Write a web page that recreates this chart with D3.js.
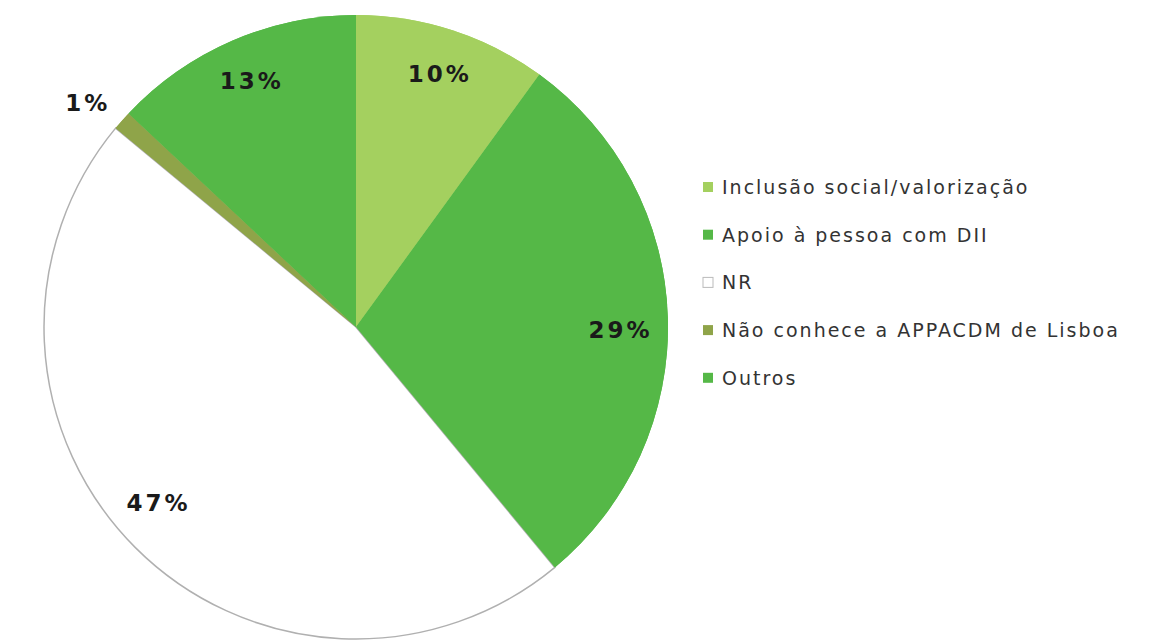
<!DOCTYPE html>
<html><head><meta charset="utf-8">
<script src="https://cdn.jsdelivr.net/npm/d3@7"></script>
<style>body{margin:0;background:#fff}svg{display:block}</style>
</head><body>
<svg id="c" width="1159" height="643"></svg>
<script>
const categories = ["Inclusão social/valorização","Apoio à pessoa com DII","NR","Não conhece a APPACDM de Lisboa","Outros"];
const values = [10, 29, 47, 1, 13];
const labels = ["10%","29%","47%","1%","13%"];
const colors = ["#a4d05f","#55b847","#ffffff","#8fa449","#55b847"];

const svg = d3.select("#c");
const cx = 356, cy = 327, R = 312;
const g = svg.append("g").attr("transform",`translate(${cx},${cy})`);
const pie = d3.pie().sort(null).value(d=>d)(values);
const arc = d3.arc().innerRadius(0).outerRadius(R);
g.selectAll("path.base").data(pie).join("path")
  .attr("class","base")
  .attr("d",arc)
  .attr("fill",(d,i)=>colors[i])
  .attr("stroke",(d,i)=>i===2?"#b0b0b0":"none")
  .attr("stroke-width",1.5);
g.selectAll("path.top").data(pie.filter((d,i)=>i!==2)).join("path")
  .attr("class","top").attr("d",arc)
  .attr("fill",d=>colors[d.index]);

// label placement: radius factor and angular nudge (degrees)
const lr = [0.853, 0.843, 0.852, 1.125, 0.86];
const la = [0, 2.4, 3.5, -1.6, 0.2];
g.selectAll("text").data(pie).join("text")
  .attr("transform",(d,i)=>{const a=(d.startAngle+d.endAngle)/2 + la[i]*Math.PI/180; const r=R*lr[i]; return `translate(${Math.sin(a)*r+1.5},${-Math.cos(a)*r})`;})
  .attr("text-anchor","middle").attr("dy","0.36em")
  .attr("font-family","DejaVu Sans, Verdana, sans-serif")
  .attr("font-weight","bold").attr("font-size",23).attr("letter-spacing",3)
  .attr("fill","#1a1a1a")
  .text((d,i)=>labels[i]);

const lg = svg.append("g").attr("transform","translate(703,187)");
const row = lg.selectAll("g").data(categories).join("g")
  .attr("transform",(d,i)=>`translate(0,${i*47.7})`);
row.append("rect").attr("x",0).attr("y",-5).attr("width",10).attr("height",10)
  .attr("fill",(d,i)=>colors[i]).attr("stroke",(d,i)=>i===2?"#bbb":"none");
row.append("text").attr("x",19).attr("dy","0.36em")
  .attr("font-family","DejaVu Sans, Verdana, sans-serif").attr("font-size",19)
  .attr("letter-spacing",2)
  .attr("fill","#333").text(d=>d);
</script>
</body></html>
